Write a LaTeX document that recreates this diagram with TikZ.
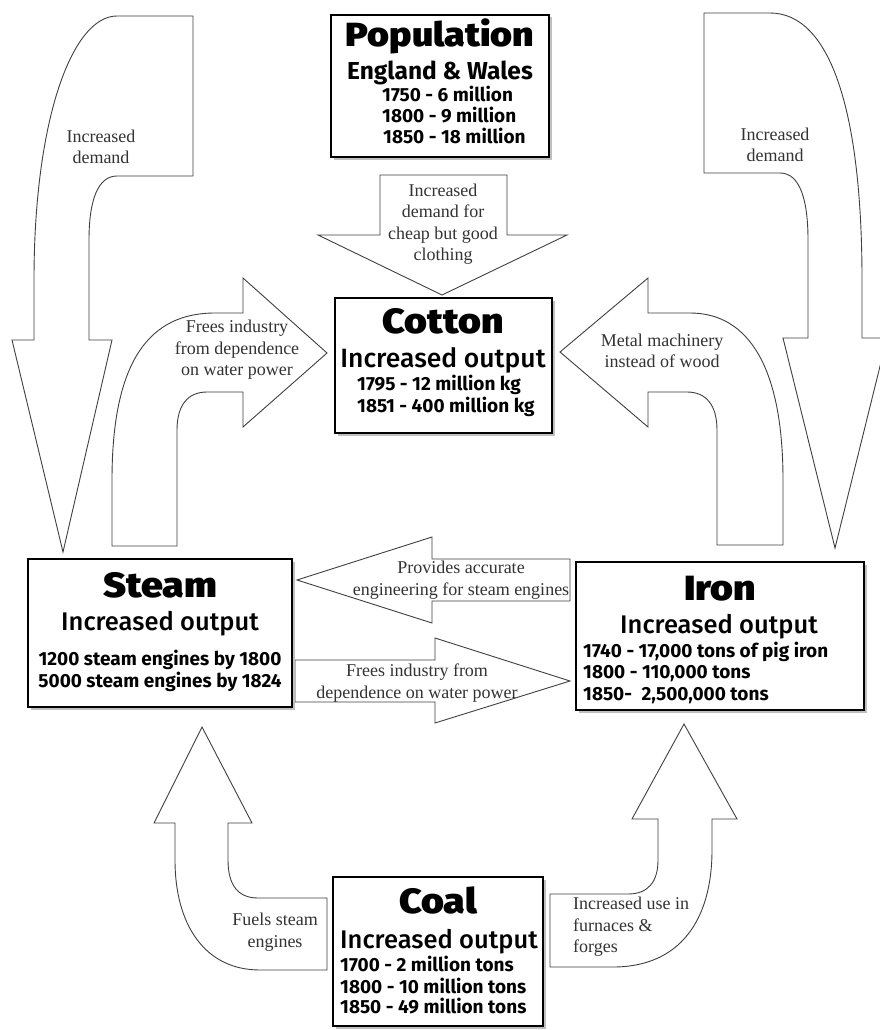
\documentclass[tikz,border=0pt]{standalone}
\usepackage{fontspec}
\setmainfont{Liberation Serif}
\IfFontExistsTF{Fira Sans Black}{\newfontfamily\ttlf{Fira Sans Black}[FakeStretch=1.12]}{\newfontfamily\ttlf{Fira Sans}[UprightFont={* Bold}, FakeStretch=1.12]}
\IfFontExistsTF{Fira Sans Medium}{\newfontfamily\medf{Fira Sans Medium}}{\newfontfamily\medf{Fira Sans}}
\newfontfamily\datf{Fira Sans}[UprightFont={* Bold}]
\usetikzlibrary{shadows}
\tikzset{
  box/.style={draw=black, line width=1.7pt, fill=white,
    general shadow={fill=black!25, shadow xshift=2.5pt, shadow yshift=-2.5pt}},
  blk/.style={draw=black!75, line width=0.9pt, fill=white, line join=miter},
  lbl/.style={font=\fontsize{18}{21.5}\selectfont, text=black!80, align=center, inner sep=0pt},
  ttl/.style={font=\ttlf\fontsize{35}{35}\selectfont, anchor=base, inner sep=0pt},
  sub/.style={font=\medf\fontsize{25.5}{25.5}\selectfont, anchor=base, inner sep=0pt},
  dat/.style={font=\datf\fontsize{19}{22}\selectfont, anchor=base west, inner sep=0pt},
}
\begin{document}
\begin{tikzpicture}[x=1pt, y=-1pt]
\path[use as bounding box] (0,0) rectangle (880,1030);
\clip (0,0) rectangle (880,1030);
\fill[white] (0,0) rectangle (880,1030);

% ---------- block arrows ----------
% top-left: Increased demand (Cotton -> Steam)
\draw[blk] (117,16) -- (193,16) -- (193,176) -- (117,176)
  .. controls (98,176) and (89,200) .. (89,240) -- (89,340) -- (112,340)
  -- (63,552) -- (12,340) -- (34,340) -- (34,280)
  .. controls (34,120) and (72,16) .. (117,16) -- cycle;
% top-right: Increased demand (Cotton -> Iron)
\draw[blk] (704,13) -- (770,13) .. controls (830,13) and (862,110) .. (862,280)
  -- (862,338) -- (887,338) -- (835,548) -- (783,338) -- (808,338) -- (808,240)
  .. controls (808,200) and (800,173) .. (780,173) -- (704,173) -- cycle;
% Population -> Cotton
\draw[blk] (380,175) -- (507,175) -- (507,235) -- (567,235) -- (442,295)
  -- (318,235) -- (380,235) -- cycle;
% Steam -> Cotton (bent)
\draw[blk] (112,546) -- (112,480) .. controls (112,360) and (150,313) .. (215,313)
  -- (243,313) -- (243,278) -- (327,353) -- (243,427) -- (243,392) -- (207,392)
  .. controls (188,392) and (177,405) .. (177,430) -- (177,546) -- cycle;
% Iron -> Cotton (bent)
\draw[blk] (783,545) -- (783,480) .. controls (783,370) and (750,313) .. (690,313)
  -- (648,313) -- (648,278) -- (560,352) -- (648,427) -- (648,392) -- (687,392)
  .. controls (706,392) and (717,405) .. (717,430) -- (717,545) -- cycle;
% Iron -> Steam
\draw[blk] (570,559) -- (432,559) -- (432,537) -- (297,580) -- (432,623)
  -- (432,601) -- (570,601) -- cycle;
% Steam -> Iron
\draw[blk] (295,660) -- (435,660) -- (435,638) -- (570,681) -- (435,723)
  -- (435,702) -- (295,702) -- cycle;
% Coal -> Steam (bent)
\draw[blk] (327,970) -- (260,970) .. controls (205,970) and (175,925) .. (175,860)
  -- (175,823) -- (154,823) -- (202,727) -- (252,823) -- (228,823) -- (228,860)
  .. controls (228,885) and (238,898) .. (258,898) -- (327,898) -- cycle;
% Coal -> Iron (bent)
\draw[blk] (550,967) -- (613,967) .. controls (680,967) and (712,920) .. (712,850)
  -- (712,819) -- (737,819) -- (684,724) -- (632,819) -- (658,819) -- (658,860)
  .. controls (658,882) and (648,894) .. (628,894) -- (550,894) -- cycle;

% ---------- arrow labels ----------
\node[lbl] (tld) at (101,147) {Increased\\demand};
\node[lbl] (trd) at (775,145) {Increased\\demand};
\node[lbl] (pcl) at (443,224) {Increased\\demand for\\cheap but good\\clothing};
\node[lbl] (lfl) at (237,350) {Frees industry\\from dependence\\on water power};
\node[lbl] (rml) at (662,351) {Metal machinery\\instead of wood};
\node[lbl] (pal) at (461,580) {Provides accurate\\engineering for steam engines};
\node[lbl] (fal) at (417,683) {Frees industry from\\dependence on water power};
\node[lbl] (fsl) at (275,932) {Fuels steam\\engines};
\node[lbl, align=left, anchor=west] (iul) at (573,927) {Increased use in\\furnaces \&\\forges};

% ---------- boxes ----------
\node[box, minimum width=218pt, minimum height=142pt] (pop) at (440,86) {};
\node[box, minimum width=217pt, minimum height=135pt] (cot) at (443.5,365.5) {};
\node[box, minimum width=264pt, minimum height=148pt] (stm) at (160,633) {};
\node[box, minimum width=288pt, minimum height=148pt] (irn) at (720,636) {};
\node[box, minimum width=210pt, minimum height=149pt] (col) at (438,951.5) {};

% Population
\node[ttl, font=\ttlf\fontsize{33.5}{33.5}\selectfont] (popt) at (440,47) {Population};
\node[font=\datf\fontsize{24.5}{24.5}\selectfont, anchor=base, inner sep=0pt] (pops) at (440,80) {England \& Wales};
\node[dat] (pop1) at (382,102) {1750 - 6 million};
\node[dat] (pop2) at (382,123) {1800 - 9 million};
\node[dat] (pop3) at (383,143) {1850 - 18 million};
% Cotton
\node[ttl] (cott) at (443,333) {Cotton};
\node[sub, font=\medf\fontsize{26.5}{26.5}\selectfont] (cots) at (443,367) {Increased output};
\node[dat] (cot1) at (357,390) {1795 - 12 million kg};
\node[dat] (cot2) at (357,412) {1851 - 400 million kg};
% Steam
\node[ttl] (stmt) at (160,597) {Steam};
\node[sub] (stms) at (160,630) {Increased output};
\node[dat, anchor=base] (stm1) at (160,665) {1200 steam engines by 1800};
\node[dat, anchor=base] (stm2) at (160,687) {5000 steam engines by 1824};
% Iron
\node[ttl] (irnt) at (720,600) {Iron};
\node[sub] (irns) at (719,633) {Increased output};
\node[dat] (irn1) at (583,657) {1740 - 17,000 tons of pig iron};
\node[dat] (irn2) at (583,678) {1800 - 110,000 tons};
\node[dat] (irn3) at (583,700) {1850-\hspace{0.5em}2,500,000 tons};
% Coal
\node[ttl] (colt) at (438,913) {Coal};
\node[sub, anchor=base west] (cols) at (340,948) {Increased output};
\node[dat] (col1) at (340,971) {1700 - 2 million tons};
\node[dat] (col2) at (340,993) {1800 - 10 million tons};
\node[dat] (col3) at (340,1013) {1850 - 49 million tons};
\end{tikzpicture}
\end{document}
